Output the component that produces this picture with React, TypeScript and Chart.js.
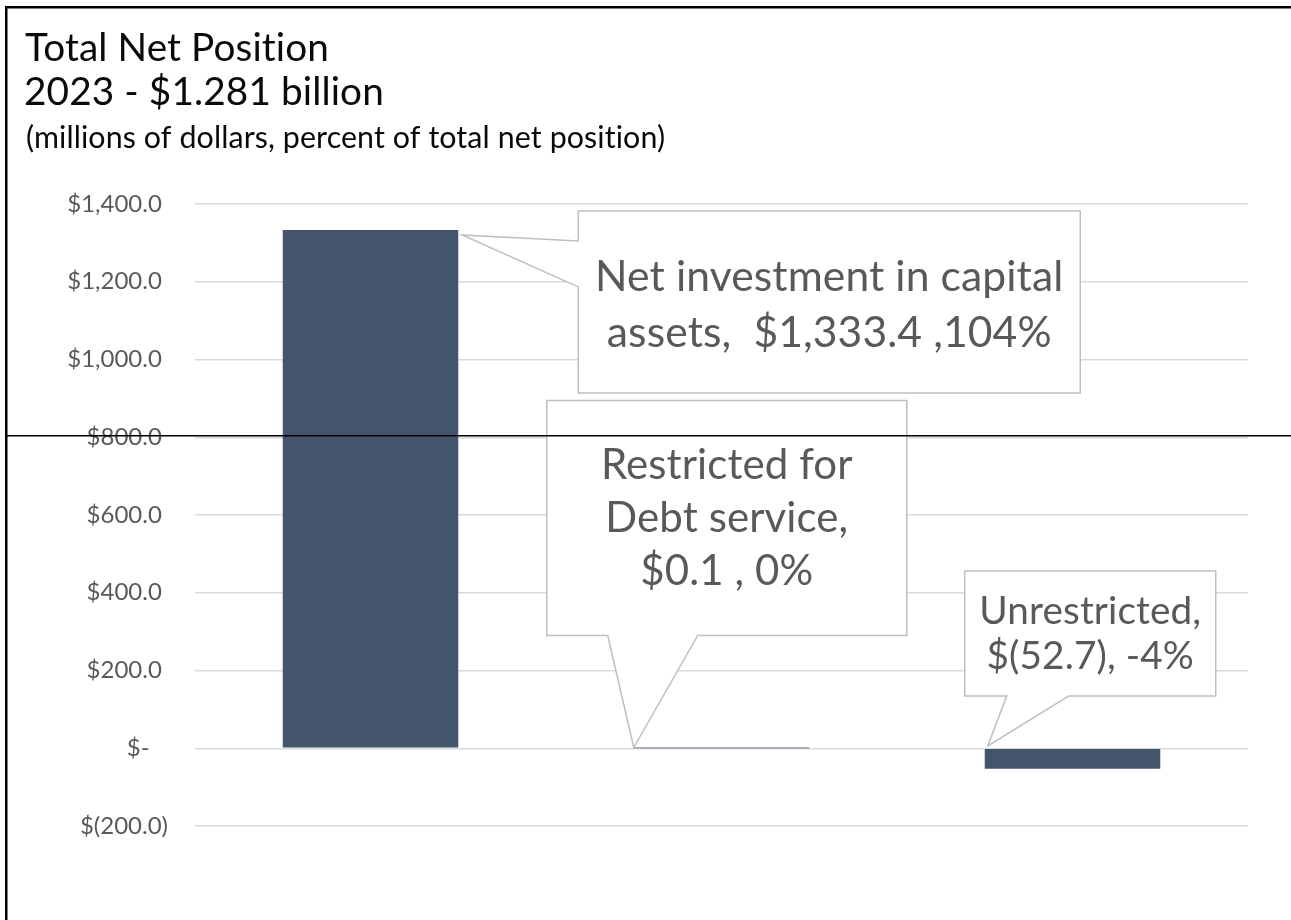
import React, { useEffect, useRef } from 'react';
import { Chart, registerables } from 'chart.js';

Chart.register(...registerables);

// ---- data ----
const categories = ['Net investment in capital assets', 'Restricted for Debt service', 'Unrestricted'];
const netPosition = [1333.4, 0.1, -52.7];
const percentOfTotal = [104, 0, -4];
const yTickValues = [-200, 0, 200, 400, 600, 800, 1000, 1200, 1400];
const titleLines = ['Total Net Position', '2023 - $1.281 billion'];
const subtitleText = '(millions of dollars, percent of total net position)';
const calloutLines = [
  ['Net investment in capital', 'assets,  $1,333.4 ,104%'],
  ['Restricted for', 'Debt service,', '$0.1 , 0%'],
  ['Unrestricted,', '$(52.7), -4%'],
];

// ---- styles ----
const FONT = 'Lato, "Noto Sans", sans-serif';
const BAR_COLOR = '#44546a';
const GRID_COLOR = '#d9d9d9';
const TEXT_GRAY = '#595959';
const CALLOUT_BORDER = '#bfbfbf';

// callout geometry, offsets in px from the top corner of each bar
const calloutGeom = [
  { corner: 'right', tip: [4, 5], box: [120, -19, 622, 163], side: 'left', base: [11, 57], textTop: 80, lineGap: 56, fitWidth: 467 },
  { corner: 'left', tip: [0, 0], box: [-87, -347, 273, -112], side: 'bottom', base: [-26, 64], textTop: 78, lineGap: 53, fitWidth: 251 },
  { corner: 'left', tip: [3, -3], box: [-20, -178, 231, -53], side: 'bottom', base: [22, 84], textTop: 53, lineGap: 45, fitWidth: 221 },
];

function fitSize(ctx: CanvasRenderingContext2D, text: string, width: number) {
  ctx.font = `100px ${FONT}`;
  const w = ctx.measureText(text).width;
  return (100 * width) / w;
}

function formatTick(v: number) {
  if (v === 0) return '$-   ';
  const s = Math.abs(v).toLocaleString('en-US', { minimumFractionDigits: 1, maximumFractionDigits: 1 });
  return v < 0 ? `$(${s})` : `$${s} `;
}

const decorPlugin = {
  id: 'decor',
  afterDatasetsDraw(chart: any) {
    const ctx: any = chart.ctx;
    const meta = chart.getDatasetMeta(0);
    ctx.save();
    ctx.letterSpacing = '0.1px';
    calloutGeom.forEach((g, i) => {
      const el = meta.data[i];
      if (!el) return;
      const half = el.width / 2;
      const ax = g.corner === 'right' ? el.x + half : el.x - half;
      const ay = Math.min(el.y, el.base);
      const L = ax + g.box[0], T = ay + g.box[1], R = ax + g.box[2], B = ay + g.box[3];
      const tx = ax + g.tip[0], ty = ay + g.tip[1];
      ctx.beginPath();
      if (g.side === 'left') {
        ctx.moveTo(L, T);
        ctx.lineTo(R, T);
        ctx.lineTo(R, B);
        ctx.lineTo(L, B);
        ctx.lineTo(L, ay + g.base[1]);
        ctx.lineTo(tx, ty);
        ctx.lineTo(L, ay + g.base[0]);
        ctx.closePath();
      } else {
        ctx.moveTo(L, T);
        ctx.lineTo(R, T);
        ctx.lineTo(R, B);
        ctx.lineTo(ax + g.base[1], B);
        ctx.lineTo(tx, ty);
        ctx.lineTo(ax + g.base[0], B);
        ctx.lineTo(L, B);
        ctx.closePath();
      }
      ctx.fillStyle = '#ffffff';
      ctx.fill();
      ctx.strokeStyle = CALLOUT_BORDER;
      ctx.lineWidth = 1.5;
      ctx.lineJoin = 'miter';
      ctx.stroke();
      const lines = calloutLines[i];
      const size = fitSize(ctx, lines[0], g.fitWidth);
      ctx.font = `${size}px ${FONT}`;
      ctx.fillStyle = TEXT_GRAY;
      ctx.textAlign = 'center';
      ctx.textBaseline = 'alphabetic';
      lines.forEach((ln, k) => {
        ctx.fillText(ln, (L + R) / 2, T + g.textTop + k * g.lineGap);
      });
    });
    ctx.restore();
  },
  afterDraw(chart: any) {
    const ctx: any = chart.ctx;
    ctx.save();
    ctx.letterSpacing = '0.1px';
    // titles
    ctx.fillStyle = '#0a0a0a';
    ctx.textAlign = 'left';
    ctx.textBaseline = 'alphabetic';
    const tSize = fitSize(ctx, titleLines[0], 303);
    ctx.font = `${tSize}px ${FONT}`;
    ctx.fillText(titleLines[0], 25, 61);
    ctx.fillText(titleLines[1], 24, 105);
    const sSize = fitSize(ctx, subtitleText, 636);
    ctx.font = `${sSize}px ${FONT}`;
    ctx.fillText(subtitleText, 26, 148);
    // frame lines of the original picture
    ctx.fillStyle = '#000000';
    ctx.fillRect(5, 6, 1291, 2.5);
    ctx.fillRect(5, 6, 2.5, 920);
    ctx.fillRect(5, 435, 1291, 1.5);
    ctx.restore();
  },
};

export default function App() {
  const canvasRef = useRef<HTMLCanvasElement | null>(null);
  useEffect(() => {
    if (!canvasRef.current) return;
    const chart = new Chart(canvasRef.current, {
      type: 'bar',
      data: {
        labels: categories,
        datasets: [
          {
            label: 'Net position',
            data: netPosition,
            backgroundColor: BAR_COLOR,
            borderWidth: 0,
            barPercentage: 0.5,
            categoryPercentage: 1,
          },
        ],
      },
      options: {
        responsive: false,
        animation: false,
        devicePixelRatio: 1,
        layout: { padding: { left: 0, top: 204, right: 43, bottom: 94 } },
        plugins: {
          legend: { display: false },
          title: { display: false },
          tooltip: { enabled: false },
        },
        scales: {
          x: {
            display: false,
            grid: { display: false },
          },
          y: {
            min: -200,
            max: 1400,
            afterFit: (s: any) => {
              s.width = 195;
            },
            afterBuildTicks: (s: any) => {
              s.ticks = yTickValues.map((v) => ({ value: v }));
            },
            border: { display: false },
            grid: { color: GRID_COLOR, lineWidth: 1.5, drawTicks: false },
            ticks: {
              padding: 27,
              color: TEXT_GRAY,
              font: { family: FONT, size: 24 },
              callback: (v: any) => formatTick(Number(v)),
            },
          },
        },
      },
      plugins: [decorPlugin],
    });
    return () => chart.destroy();
  }, []);
  return (
    <div style={{ position: 'absolute', left: 0, top: 0, width: 1291, height: 920, background: '#ffffff' }}>
      <canvas ref={canvasRef} width={1291} height={920} style={{ display: 'block' }} />
    </div>
  );
}
